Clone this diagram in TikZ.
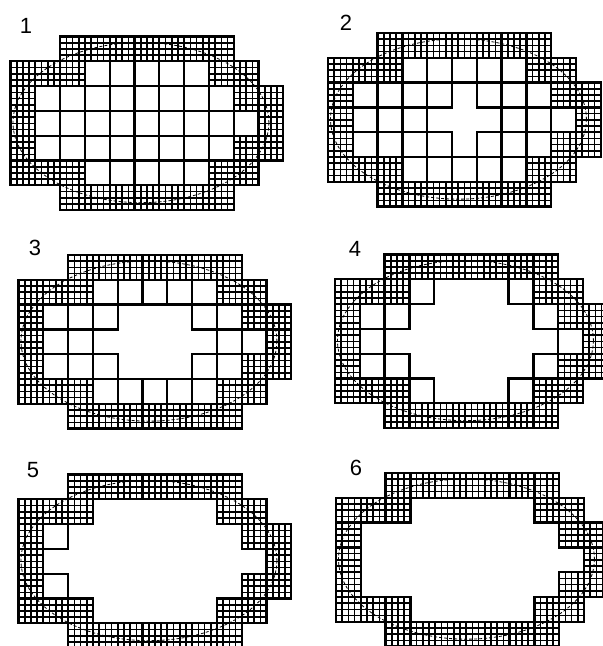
\documentclass[tikz,border=0pt]{standalone}
\usepackage{fontspec}
\setmainfont{Liberation Sans}
\tikzset{
  fineline/.style={line width=1.6pt, black},
  cellline/.style={line width=2.3pt, black, line join=miter},
  ellipseline/.style={line width=0.8pt, black, dash pattern=on 3pt off 2pt},
  panellabel/.style={font=\fontsize{22}{22}\selectfont, inner sep=0pt, anchor=center}
}
\newcommand\ringcells{2/0,3/0,4/0,5/0,6/0,7/0,8/0,0/1,1/1,2/1,8/1,9/1,0/2,9/2,10/2,0/3,10/3,0/4,9/4,10/4,0/5,1/5,2/5,8/5,9/5,2/6,3/6,4/6,5/6,6/6,7/6,8/6}
% panel: origin x, origin y (image px, y down)
\newcommand\ringpanel[2]{%
  \begin{scope}[shift={(#1pt,-#2pt)}, x=24.8pt, y=-24.8pt]
    \draw[ellipseline] (5.26,3.47) ellipse [x radius=5.16, y radius=3.23];
    \foreach \c/\r in \ringcells {
      \draw[fineline] (\c+0.25,\r) -- ++(0,1) (\c+0.5,\r) -- ++(0,1) (\c+0.75,\r) -- ++(0,1)
        (\c,\r+0.25) -- ++(1,0) (\c,\r+0.5) -- ++(1,0) (\c,\r+0.75) -- ++(1,0);
    }
    \foreach \c/\r in \ringcells {\draw[cellline] (\c,\r) rectangle ++(1,1);}
  \end{scope}}
\newcommand\coarsecells[3]{%
  \begin{scope}[shift={(#1pt,-#2pt)}, x=24.8pt, y=-24.8pt]
    \foreach \c/\r in {#3} {\draw[cellline] (\c,\r) rectangle ++(1,1);}
  \end{scope}}
\begin{document}
\begin{tikzpicture}
  \useasboundingbox (0pt,0pt) rectangle (603pt,-646pt);
  \clip (0pt,0pt) rectangle (603pt,-646pt);
  \fill[white] (0pt,0pt) rectangle (603pt,-646pt);
  % panel 1
  \ringpanel{10.5}{36.5}
  \coarsecells{10.5}{36.5}{3/1,4/1,5/1,6/1,7/1,1/2,2/2,3/2,4/2,5/2,6/2,7/2,8/2,1/3,2/3,3/3,4/3,5/3,6/3,7/3,8/3,9/3,1/4,2/4,3/4,4/4,5/4,6/4,7/4,8/4,3/5,4/5,5/5,6/5,7/5}
  % panel 2
  \ringpanel{328}{33}
  \coarsecells{328}{33}{3/1,4/1,5/1,6/1,7/1,1/2,2/2,3/2,4/2,6/2,7/2,8/2,1/3,2/3,3/3,7/3,8/3,9/3,1/4,2/4,3/4,4/4,6/4,7/4,8/4,3/5,4/5,5/5,6/5,7/5}
  % panel 3
  \ringpanel{18.5}{255}
  \coarsecells{18.5}{255}{3/1,4/1,5/1,6/1,7/1,1/2,2/2,3/2,7/2,8/2,1/3,2/3,8/3,9/3,1/4,2/4,3/4,7/4,8/4,3/5,4/5,5/5,6/5,7/5}
  % panel 4
  \ringpanel{335}{254.5}
  \coarsecells{335}{254.5}{3/1,7/1,1/2,2/2,8/2,1/3,9/3,1/4,2/4,8/4,3/5,7/5}
  % panel 5
  \ringpanel{18.5}{474.5}
  \coarsecells{18.5}{474.5}{1/2,1/4}
  % panel 6
  \ringpanel{336}{473}
  % labels
  \node[panellabel] (lab1) at (26pt,-25.5pt) {1};
  \node[panellabel] (lab2) at (346pt,-23pt) {2};
  \node[panellabel] (lab3) at (35pt,-248pt) {3};
  \node[panellabel] (lab4) at (355pt,-249pt) {4};
  \node[panellabel] (lab5) at (33pt,-470pt) {5};
  \node[panellabel] (lab6) at (356pt,-468pt) {6};
\end{tikzpicture}
\end{document}
